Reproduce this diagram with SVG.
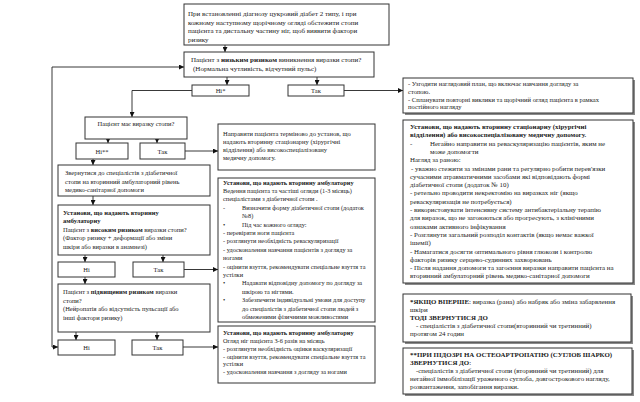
<svg xmlns="http://www.w3.org/2000/svg" width="640" height="402" viewBox="0 0 640 402">
<defs>
<marker id="ah" viewBox="0 0 6 6" refX="6" refY="3" markerWidth="5" markerHeight="5" markerUnits="userSpaceOnUse" orient="auto">
<path d="M0,0 L6,3 L0,6 z" fill="#111"/>
</marker>
</defs>
<style>
.b{fill:#fff;stroke:#333;stroke-width:1}
.s{fill:#8a8a8a}
.c{fill:none;stroke:#222;stroke-width:0.9;marker-end:url(#ah)}
text{font-family:"Liberation Serif","Times New Roman",serif;font-size:6.5px;fill:#1a1a1a}
.t7{font-size:7px}
.m{font-size:6.3px}
.r{font-size:6.9px}
.mid{text-anchor:middle}
.bd{font-weight:bold}
</style>
<rect width="640" height="402" fill="#fff"/>

<g id="connectors">
<path class="c" d="M225,45 L225,52"/>
<path class="c" d="M52,67 L184,67"/>
<path class="c" d="M52,67 L52,347 L58,347"/>
<path class="c" d="M227,77 L227,85"/>
<path class="c" d="M317,77 L317,85"/>
<path class="c" d="M344,90.5 L403,90.5"/>
<path class="c" d="M192,90.5 L132,90.5 L132,117"/>
<path class="c" d="M108,139 L108,143"/>
<path class="c" d="M157,139 L157,143"/>
<path class="c" d="M185,151 L218,151"/>
<path class="c" d="M93,159 L93,165"/>
<path class="c" d="M93,196 L93,205"/>
<path class="c" d="M85,255 L85,262"/>
<path class="c" d="M163,255 L163,262"/>
<path class="c" d="M184,269.5 L218,269.5"/>
<path class="c" d="M85,277 L85,284"/>
<path class="c" d="M76,332 L76,340"/>
<path class="c" d="M157,332 L157,340"/>
<path class="c" d="M183,347 L218,347"/>
</g>

<g id="start">
<rect class="b" x="184" y="4" width="205" height="41"/>
<text class="t7" x="188" y="16">При встановленні діагнозу цукровий діабет 2 типу, і при</text>
<text class="t7" x="188" y="24.5">кожному наступному щорічному огляді обстежити стопи</text>
<text class="t7" x="188" y="33">пацієнта та дистальну частину ніг, щоб виявити фактори</text>
<text class="t7" x="188" y="41.5">ризику</text>
</g>

<g id="low-risk">
<rect class="b" x="184" y="52" width="190" height="25"/>
<text class="t7" x="191" y="62">Пацієнт з <tspan class="bd">низьким ризиком</tspan> виникнення виразки стопи?</text>
<text class="t7" x="193" y="71">(Нормальна чутливість, відчутний пульс)</text>
</g>

<g id="low-no">
<rect class="b" x="192" y="85" width="57" height="11"/>
<text class="mid" x="220.5" y="93">Ні*</text>
</g>
<g id="low-yes">
<rect class="b" x="288" y="85" width="56" height="11"/>
<text class="mid" x="316" y="93">Так</text>
</g>

<g id="plan">
<rect class="s" x="405" y="80" width="230" height="35"/>
<rect class="b" x="403" y="78" width="230" height="35"/>
<text x="408" y="86">- Узгодити наглядовий план, що включає навчання догляду за</text>
<text x="408" y="93.5">стопою.</text>
<text x="408" y="101.5">- Спланувати повторні виклики та щорічний огляд пацієнта в рамках</text>
<text x="408" y="109">постійного нагляду</text>
</g>

<g id="ulcer-q">
<rect class="b" x="85" y="117" width="102" height="22"/>
<text class="mid" x="136" y="126">Пацієнт має виразку стопи?</text>
</g>
<g id="ulcer-no">
<rect class="b" x="76" y="143" width="52" height="16"/>
<text class="mid" x="102" y="153.5">Ні**</text>
</g>
<g id="ulcer-yes">
<rect class="b" x="140" y="143" width="45" height="16"/>
<text class="mid" x="162.5" y="153.5">Так</text>
</g>

<g id="refer-urgent">
<rect class="b" x="218" y="124" width="157" height="46"/>
<text x="223" y="136">Направити пацієнта терміново до установ, що</text>
<text x="223" y="144">надають вторинну стаціонарну (хірургічні</text>
<text x="223" y="152">відділення) або високоспеціалізовану</text>
<text x="223" y="160">медичну допомогу.</text>
</g>

<g id="refer-spec">
<rect class="b" x="58" y="165" width="152" height="31"/>
<text x="65" y="175">Звернутися до спеціалістів з діабетичної</text>
<text x="65" y="183.5">стопи на вторинний амбулаторний рівень</text>
<text x="65" y="192">медико-санітарної допомоги</text>
</g>

<g id="high-risk">
<rect class="b" x="58" y="205" width="152" height="50"/>
<text class="bd" x="63" y="215">Установи, що надають вторинну</text>
<text class="bd" x="63" y="223">амбулаторну</text>
<text x="63" y="231.5">Пацієнт з <tspan class="bd">високим ризиком</tspan> виразки стопи?</text>
<text x="63" y="240">(Фактор ризику + деформації або зміни</text>
<text x="63" y="248.5">шкіри або виразки в анамнезі)</text>
</g>
<g id="high-no">
<rect class="b" x="58" y="262" width="57" height="15"/>
<text class="mid" x="86.5" y="272">Ні</text>
</g>
<g id="high-yes">
<rect class="b" x="133" y="262" width="51" height="15"/>
<text class="mid" x="158.5" y="272">Так</text>
</g>

<g id="raised-risk">
<rect class="b" x="58" y="284" width="152" height="48"/>
<text x="63" y="294">Пацієнт з <tspan class="bd">підвищеним ризиком</tspan> виразки</text>
<text x="63" y="302.5">стопи?</text>
<text x="63" y="311">(Нейропатія або відсутність пульсації або</text>
<text x="63" y="319.5">інші фактори ризику)</text>
</g>
<g id="raised-no">
<rect class="b" x="58" y="340" width="57" height="15"/>
<text class="mid" x="86.5" y="350">Ні</text>
</g>
<g id="raised-yes">
<rect class="b" x="132" y="340" width="51" height="15"/>
<text class="mid" x="157.5" y="350">Так</text>
</g>

<g id="secondary-high">
<rect class="b" x="218" y="178" width="157" height="144"/>
<text class="m bd" x="223" y="184.5">Установи, що надають вторинну амбулаторну</text>
<text class="m" x="223" y="192.9">Ведення пацієнта та частіші огляди (1-3 місяць)</text>
<text class="m" x="223" y="201.3">спеціалістами з діабетичної стопи .</text>
<text class="m" x="223" y="209.7">-<tspan x="242">Визначити форму діабетичної стопи (додаток</tspan></text>
<text class="m" x="242" y="218.1">№8)</text>
<text class="m" x="223" y="226.5">•<tspan x="242">Під час кожного огляду:</tspan></text>
<text class="m" x="223" y="234.9">- перевіряти ноги пацієнта</text>
<text class="m" x="223" y="243.3">- розглянути необхідність реваскуляризації</text>
<text class="m" x="223" y="251.7">- удосконалення навчання пацієнтів з догляду за</text>
<text class="m" x="223" y="260.1">ногами</text>
<text class="m" x="223" y="268.5">- оцінити взуття, рекомендувати спеціальне взуття та</text>
<text class="m" x="223" y="276.9">устілки</text>
<text class="m" x="223" y="285.3">•<tspan x="242">Надавати відповідну допомогу по догляду за</tspan></text>
<text class="m" x="242" y="293.7">шкірою та нігтями.</text>
<text class="m" x="223" y="302.1">•<tspan x="242">Забезпечити індивідуальні  умови для доступу</tspan></text>
<text class="m" x="242" y="310.5">до спеціалістів з діабетичної стопи  людей з</text>
<text class="m" x="242" y="318.9">обмеженими  фізичними можливостями</text>
</g>

<g id="secondary-raised">
<rect class="b" x="218" y="326" width="157" height="57"/>
<text class="m bd" x="223" y="335">Установи, що надають вторинну амбулаторну</text>
<text class="m" x="223" y="343">Огляд ніг пацієнта 3-6 разів на місяць</text>
<text class="m" x="223" y="350.5">- розглянути необхідність оцінки васкуляризації</text>
<text class="m" x="223" y="358.5">- оцінити взуття, рекомендувати спеціальне взуття та</text>
<text class="m" x="223" y="366">устілки</text>
<text class="m" x="223" y="374">- удосконалення навчання з догляду за ногами</text>
</g>

<g id="inpatient">
<rect class="s" x="405" y="122" width="230" height="163"/>
<rect class="b" x="403" y="120" width="230" height="163"/>
<text class="r bd" x="410" y="129">Установи, що надають вторинну стаціонарну (хірургічні</text>
<text class="r bd" x="410" y="137.3">відділення) або високоспеціалізовану медичну допомогу.</text>
<text class="r" x="410" y="145.6">-<tspan x="430">Негайно направити на реваскуляризацію пацієнтів, яким не</tspan></text>
<text class="r" x="430" y="153.9">може допомогти</text>
<text class="r" x="410" y="162.2">Нагляд за раною:</text>
<text class="r" x="411" y="170.5">- уважно стежити за змінами рани та регулярно робити перев'язки</text>
<text class="r" x="410" y="178.8">сучасними атравматичними засобами які відповідають формі</text>
<text class="r" x="410" y="187.1">діабетичної стопи (додаток № 10)</text>
<text class="r" x="410" y="195.4">- ретельно проводити некректомію на  виразках ніг (якщо</text>
<text class="r" x="410" y="203.7">реваскуляризація не потребується)</text>
<text class="r" x="410" y="212">- використовувати інтенсивну систему антибактеріальну терапію</text>
<text class="r" x="410" y="220.3">для виразок, що  не загоюються або прогресують, з клінічними</text>
<text class="r" x="410" y="228.6">ознаками активного інфікування</text>
<text class="r" x="410" y="236.9">- Розглянути загальний розподіл  контактів (якщо немає важкої</text>
<text class="r" x="410" y="245.2">ішемії)</text>
<text class="r" x="410" y="253.5">- Намагатися  досягти оптимального рівня глюкози і контролю</text>
<text class="r" x="410" y="261.8">факторів ризику серцево-судинних захворювань</text>
<text class="r" x="410" y="270.1">- Після надання допомоги та загоєння виразки направити пацієнта на</text>
<text class="r" x="410" y="278.4">вторинний амбулаторний рівень медико-санітарної допомоги</text>
</g>

<g id="note-first">
<rect class="s" x="405" y="296" width="228" height="48"/>
<rect class="b" x="403" y="294" width="228" height="48"/>
<text class="r" x="410" y="303.5"><tspan class="bd">*ЯКЩО ВПЕРШЕ</tspan>: виразка (рана) або набряк або зміна забарвлення</text>
<text class="r" x="410" y="311.5">шкіри</text>
<text class="r bd" x="410" y="319.5">ТОДІ ЗВЕРНУТИСЯ ДО</text>
<text class="r" x="416" y="327.5">- спеціалістів з діабетичної стопи(вторинний чи третинний)</text>
<text class="r" x="410" y="335.5">протягом  24 годин</text>
</g>

<g id="note-charcot">
<rect class="s" x="405" y="350" width="229" height="46"/>
<rect class="b" x="403" y="348" width="229" height="46"/>
<text class="r bd" x="410" y="357">**ПРИ ПІДОЗРІ НА ОСТЕОАРТРОПАТІЮ (СУГЛОБ ШАРКО)</text>
<text class="r" x="410" y="364.5"><tspan class="bd">ЗВЕРНУТИСЯ ДО</tspan>:</text>
<text class="r" x="416" y="373">-спеціалістів з діабетичної стопи (вторинний чи третинний) для</text>
<text class="r" x="410" y="381">негайної іммобілізації ураженого суглоба,  довгострокового нагляду,</text>
<text class="r" x="410" y="389">розвантаження, запобігання виразки.</text>
</g>
</svg>
